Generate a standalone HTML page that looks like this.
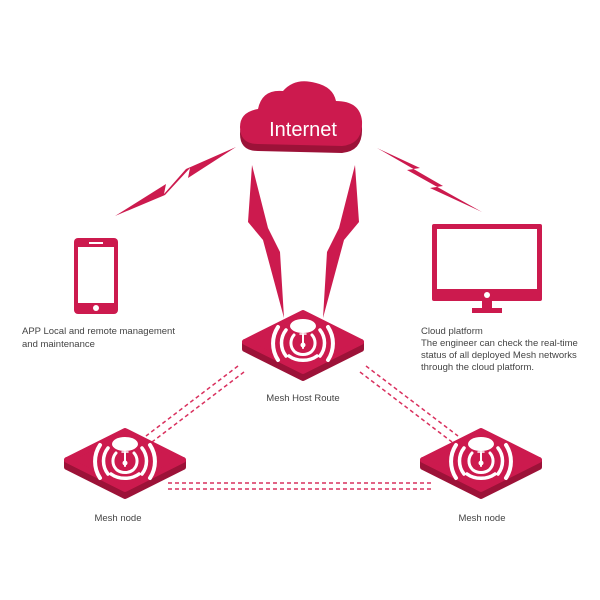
<!DOCTYPE html>
<html><head><style>
html,body{margin:0;padding:0;background:#fff;width:600px;height:600px;overflow:hidden}
svg{display:block}
text{font-family:"Liberation Sans",sans-serif;fill:#444}
</style></head><body>
<svg width="600" height="600" viewBox="0 0 600 600" xmlns="http://www.w3.org/2000/svg">
<defs>
<g id="node">
  <path d="M-58,7 L0,36 L58,7 L58,0 L-58,0 Z" fill="#9c1238" stroke="#9c1238" stroke-width="6" stroke-linejoin="round"/>
  <path d="M-58,0 L0,-29 L58,0 L0,29 Z" fill="#cc1a4e" stroke="#cc1a4e" stroke-width="6" stroke-linejoin="round"/>
  <ellipse cx="0" cy="-16" rx="13" ry="7" fill="#fff"/>
  <g fill="none" stroke="#fff" stroke-linecap="round">
    <path d="M-9,-7 A12,12 0 0 0 -9,9" stroke-width="3"/>
    <path d="M9,-7 A12,12 0 0 1 9,9" stroke-width="3"/>
    <path d="M-17,-12 A21,21 0 0 0 -17,14" stroke-width="3.5"/>
    <path d="M17,-12 A21,21 0 0 1 17,14" stroke-width="3.5"/>
    <path d="M-25,-15 A30,30 0 0 0 -25,18" stroke-width="4"/>
    <path d="M25,-15 A30,30 0 0 1 25,18" stroke-width="4"/>
    <path d="M-8,10 A12,10 0 0 0 8,10" stroke-width="3"/>
    <path d="M-14,14 A20,15 0 0 0 14,14" stroke-width="3.5"/>
    <path d="M0,-8 L0,6" stroke-width="2"/>
    <path d="M-3,-8 L3,-8" stroke-width="1.5"/>
  </g>
  <circle cx="0" cy="3" r="2.5" fill="#fff"/>
</g>
</defs>

<g stroke="#d9305e" stroke-width="1.5" stroke-dasharray="4,3" fill="none">
  <line x1="238" y1="366" x2="146" y2="436"/>
  <line x1="244" y1="372" x2="152" y2="442"/>
  <line x1="366" y1="366" x2="458" y2="436"/>
  <line x1="360" y1="372" x2="452" y2="442"/>
  <line x1="168" y1="483" x2="432" y2="483"/>
  <line x1="168" y1="489" x2="432" y2="489"/>
</g>

<g>
  <path d="M258,151 Q240,151 240,134 Q240,119 258,116 Q262,96 283,98 Q295,84 316,90 Q333,94 336,108 Q360,108 362,128 Q363,151 342,153 Z" fill="#9c1238"/>
  <path d="M258,144 Q240,144 240,127 Q240,112 258,109 Q262,89 283,91 Q295,77 316,83 Q333,87 336,101 Q360,101 362,121 Q363,144 342,146 Z" fill="#cc1a4e"/>
  <text x="303" y="136" text-anchor="middle" font-size="20" style="fill:#fff">Internet</text>
</g>

<g fill="#cc1a4e">
  <polygon points="236,147 188,178 190,168 165,195 115,216 166,184 164,194 186,169"/>
  <polygon points="377,148 420,168 407,170 482,212 430,188 443,186"/>
  <polygon points="252,165 268,228 280,252 284,318 263,240 248,222"/>
  <polygon points="355,165 339,228 327,252 323,318 344,240 359,222"/>
</g>

<rect x="74" y="238" width="44" height="76" rx="4" fill="#cc1a4e"/>
<rect x="78" y="247" width="36" height="56" fill="#fff"/>
<rect x="89" y="242" width="14" height="2" fill="#fff"/>
<circle cx="96" cy="308" r="3" fill="#fff"/>

<rect x="432" y="224" width="110" height="77" rx="2" fill="#cc1a4e"/>
<rect x="437" y="229" width="100" height="60" fill="#fff"/>
<circle cx="487" cy="295" r="3" fill="#fff"/>
<rect x="482" y="301" width="10" height="8" fill="#cc1a4e"/>
<rect x="472" y="308" width="30" height="5" fill="#cc1a4e"/>

<use href="#node" x="303" y="342"/>
<use href="#node" x="125" y="460"/>
<use href="#node" x="481" y="460"/>

<g font-size="9.5">
  <text x="22" y="334">APP  Local and remote management</text>
  <text x="22" y="347">and maintenance</text>
  <text x="421" y="334">Cloud platform</text>
  <text x="421" y="346">The engineer can check the real-time</text>
  <text x="421" y="358">status of all deployed Mesh networks</text>
  <text x="421" y="370">through the cloud platform.</text>
  <text x="303" y="401" text-anchor="middle">Mesh Host Route</text>
  <text x="118" y="521" text-anchor="middle">Mesh node</text>
  <text x="482" y="521" text-anchor="middle">Mesh node</text>
</g>
</svg>
</body></html>
